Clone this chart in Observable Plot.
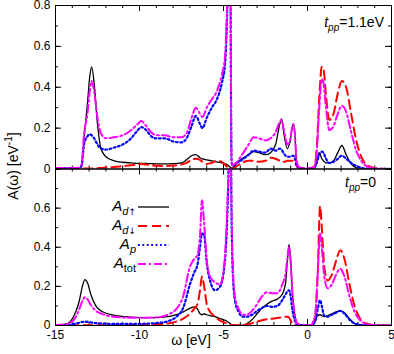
<!DOCTYPE html>
<html><head><meta charset="utf-8">
<script src="https://cdn.jsdelivr.net/npm/d3@7"></script>
<script src="https://cdn.jsdelivr.net/npm/@observablehq/plot@0.6"></script>
<style>
body{margin:0;background:#fff}
#chart{position:relative;width:394px;height:354px}
#chart svg{position:absolute;left:0;top:0}
</style></head><body><div id="chart"></div>
<script>
// ---- data: top panel (t_pp = 1.1 eV)
const topOmega = [-15,-13.6,-13.45,-13.3,-13.1,-12.95,-12.85,-12.7,-12.5,-12.3,-12,-11.5,-11,-10.5,-10.1,-9.9,-9.6,-9.3,-9,-8.5,-8,-7.5,-7.2,-6.9,-6.65,-6.4,-6.25,-6,-5.7,-5.4,-5.1,-4.9,-4.75,-4.62,-4.52,-4.45,-4.2,-3.9,-3.5,-3.2,-2.9,-2.5,-2.2,-1.9,-1.65,-1.55,-1.4,-1.2,-1.05,-0.85,-0.75,-0.65,-0.5,0,0.4,0.55,0.7,0.85,0.95,1.1,1.3,1.55,1.8,2.05,2.3,2.6,2.9,3.2,3.6,4.2,5];
const topDup = [0.002,0.005,0.02,0.15,0.32,0.46,0.50,0.42,0.22,0.10,0.06,0.04,0.033,0.03,0.028,0.028,0.027,0.026,0.025,0.025,0.026,0.03,0.045,0.065,0.07,0.055,0.05,0.045,0.04,0.035,0.03,0.025,0.02,0.01,0.005,0.005,0.03,0.05,0.07,0.085,0.08,0.07,0.08,0.12,0.22,0.245,0.17,0.10,0.13,0.22,0.17,0.03,0.005,0.001,0.005,0.04,0.08,0.05,0.04,0.03,0.03,0.04,0.08,0.115,0.07,0.025,0.006,0.002,0.001,0,0];
const topDdn = [0.001,0.001,0.001,0.002,0.002,0.002,0.003,0.003,0.004,0.005,0.007,0.01,0.014,0.018,0.022,0.024,0.022,0.018,0.016,0.015,0.017,0.022,0.03,0.045,0.05,0.045,0.035,0.025,0.03,0.04,0.035,0.02,0.01,0.005,0.002,0.002,0.015,0.03,0.04,0.04,0.035,0.04,0.055,0.05,0.04,0.035,0.035,0.04,0.04,0.04,0.03,0.015,0.004,0.001,0.01,0.10,0.35,0.50,0.49,0.36,0.24,0.27,0.37,0.43,0.40,0.27,0.14,0.06,0.015,0.002,0];
const topP = [0.003,0.004,0.015,0.12,0.16,0.17,0.165,0.15,0.12,0.10,0.095,0.105,0.12,0.15,0.19,0.205,0.19,0.16,0.15,0.15,0.135,0.13,0.15,0.21,0.26,0.22,0.20,0.25,0.30,0.34,0.42,0.52,0.85,1.25,0.04,0.015,0.03,0.045,0.07,0.09,0.085,0.08,0.10,0.09,0.10,0.095,0.075,0.06,0.06,0.065,0.05,0.02,0.005,0.001,0.005,0.03,0.07,0.085,0.08,0.05,0.03,0.035,0.05,0.065,0.05,0.03,0.015,0.006,0.002,0.001,0];
const topTot = [0.004,0.006,0.02,0.17,0.27,0.39,0.43,0.38,0.25,0.175,0.15,0.155,0.165,0.19,0.22,0.235,0.21,0.18,0.165,0.165,0.155,0.155,0.175,0.25,0.30,0.27,0.255,0.30,0.34,0.38,0.46,0.56,0.9,1.3,0.05,0.02,0.035,0.07,0.12,0.155,0.15,0.14,0.15,0.18,0.23,0.24,0.19,0.12,0.14,0.22,0.17,0.04,0.01,0.002,0.01,0.09,0.30,0.44,0.42,0.30,0.19,0.21,0.27,0.31,0.28,0.18,0.09,0.04,0.01,0.002,0];

// ---- data: bottom panel (t_pp = 0)
const botOmega = [-15,-14.3,-13.9,-13.6,-13.4,-13.25,-13.1,-12.9,-12.6,-12.2,-11.5,-10.5,-9.5,-8.7,-8.2,-7.8,-7.4,-7,-6.75,-6.55,-6.4,-6.28,-6.15,-6,-5.8,-5.5,-5.2,-4.95,-4.8,-4.68,-4.6,-4.52,-4.42,-4.3,-4.1,-3.85,-3.6,-3.3,-3,-2.7,-2.4,-2.1,-1.8,-1.5,-1.3,-1.2,-1.1,-1,-0.9,-0.75,-0.6,-0.3,0.2,0.45,0.6,0.75,0.85,1,1.2,1.45,1.7,1.95,2.2,2.5,2.8,3.1,3.5,4,5];
const botDup = [0.002,0.01,0.05,0.12,0.20,0.235,0.22,0.16,0.10,0.07,0.052,0.043,0.04,0.042,0.047,0.055,0.07,0.088,0.095,0.085,0.06,0.055,0.06,0.055,0.05,0.045,0.035,0.028,0.022,0.015,0.01,0.005,0.002,0.001,0,0.002,0.01,0.03,0.06,0.09,0.11,0.125,0.135,0.16,0.22,0.33,0.415,0.33,0.17,0.05,0.01,0.001,0.001,0.02,0.05,0.055,0.05,0.045,0.05,0.06,0.07,0.075,0.065,0.035,0.01,0.003,0.001,0,0];
const botDdn = [0.001,0.001,0.001,0.001,0.001,0.001,0.001,0.001,0.001,0.001,0.002,0.003,0.005,0.008,0.012,0.02,0.035,0.06,0.085,0.11,0.18,0.25,0.20,0.11,0.07,0.045,0.025,0.015,0.01,0.006,0.004,0.003,0.002,0.001,0.001,0.002,0.005,0.012,0.02,0.027,0.032,0.035,0.038,0.042,0.045,0.045,0.04,0.025,0.01,0.004,0.001,0.001,0.002,0.04,0.25,0.61,0.50,0.30,0.23,0.26,0.33,0.385,0.34,0.21,0.10,0.04,0.01,0.002,0];
const botP = [0.001,0.003,0.008,0.014,0.018,0.02,0.019,0.016,0.012,0.01,0.008,0.008,0.01,0.015,0.025,0.045,0.09,0.21,0.27,0.31,0.40,0.47,0.46,0.32,0.23,0.18,0.2,0.3,0.5,0.85,1.25,0.55,0.22,0.12,0.07,0.045,0.045,0.055,0.075,0.09,0.10,0.095,0.10,0.13,0.16,0.175,0.18,0.15,0.08,0.025,0.006,0.001,0.001,0.02,0.08,0.13,0.10,0.05,0.045,0.055,0.065,0.075,0.06,0.03,0.01,0.003,0.001,0,0];
const botTot = [0.002,0.008,0.03,0.08,0.125,0.145,0.135,0.105,0.075,0.058,0.045,0.04,0.04,0.045,0.06,0.085,0.15,0.30,0.34,0.36,0.46,0.64,0.52,0.34,0.25,0.22,0.21,0.32,0.55,0.9,1.3,0.6,0.25,0.14,0.085,0.055,0.055,0.075,0.11,0.15,0.17,0.165,0.165,0.21,0.27,0.34,0.40,0.32,0.17,0.05,0.01,0.001,0.003,0.05,0.25,0.47,0.40,0.25,0.19,0.21,0.26,0.29,0.25,0.15,0.07,0.03,0.008,0.001,0];

// ---- ticks & labels
const xTicks = [-15,-10,-5,0,5];
const xMinor = [-15,-14,-13,-12,-11,-10,-9,-8,-7,-6,-5,-4,-3,-2,-1,0,1,2,3,4,5];
const yTicksTop = [0,0.2,0.4,0.6,0.8];
const yTicksBot = [0,0.2,0.4,0.6];
const yMajor = [0,0.2,0.4,0.6,0.8];
const yMinor = [0,0.1,0.2,0.3,0.4,0.5,0.6,0.7,0.8];
const panelLabels = ["=1.1eV", "=0"];

// ---- styles
const seriesStyle = [
  {stroke: "#000000", strokeWidth: 1.3, dash: null},
  {stroke: "#ff0000", strokeWidth: 2, dash: "9,5"},
  {stroke: "#0000ff", strokeWidth: 2.2, dash: "1.8,2.6"},
  {stroke: "#ff00ff", strokeWidth: 2, dash: "8,3,2,3"}
];

const W = 394, H = 354, L = 55, R = 3;
const FONT = "'Liberation Sans', Arial, Helvetica, sans-serif";

function panel(omega, series, top, bottom, yTicks, showX) {
  const h = H - top - bottom, w = W - L - R;
  const major = 6, minor = 3;
  const marks = [
    Plot.ruleX(xMinor, {x: d => d, insetTop: h - minor}),
    Plot.ruleX(xMinor, {x: d => d, insetBottom: h - minor}),
    Plot.ruleX(xTicks, {x: d => d, insetTop: h - major}),
    Plot.ruleX(xTicks, {x: d => d, insetBottom: h - major}),
    Plot.ruleY(yMinor, {y: d => d, insetRight: w - minor}),
    Plot.ruleY(yMinor, {y: d => d, insetLeft: w - minor}),
    Plot.ruleY(yMajor, {y: d => d, insetRight: w - major}),
    Plot.ruleY(yMajor, {y: d => d, insetLeft: w - major}),
  ];
  seriesStyle.forEach((s, k) => {
    const vals = series[k];
    marks.push(Plot.line(omega, {
      x: d => d, y: (d, i) => vals[i],
      stroke: s.stroke, strokeWidth: s.strokeWidth,
      strokeDasharray: s.dash || undefined,
      curve: "monotone-x", clip: true
    }));
  });
  marks.push(Plot.frame({stroke: "#000", strokeWidth: 1}));
  return Plot.plot({
    width: W, height: H,
    marginLeft: L, marginRight: R, marginTop: top, marginBottom: bottom,
    x: {domain: [-15, 5], axis: showX ? "bottom" : null, ticks: xTicks,
        tickSize: 0, tickPadding: 5, tickFormat: d => `${d}`, label: null},
    y: {domain: [0, 0.8], ticks: yTicks, tickSize: 0, tickPadding: 5,
        tickFormat: d => `${d}`, label: null},
    style: {fontFamily: FONT, fontSize: "12px", background: "transparent", color: "#000"},
    marks
  });
}

const chart = document.getElementById("chart");
const topPlot = panel(topOmega, [topDup, topDdn, topP, topTot], 5, H - 168.5, yTicksTop, false);
const botPlot = panel(botOmega, [botDup, botDdn, botP, botTot], 168.5, 29, yTicksBot, true);
chart.appendChild(topPlot);
chart.appendChild(botPlot);

// ---- annotations (axis titles, panel labels, legend)
const svg = d3.select(botPlot);
const g = svg.append("g").attr("font-family", FONT).attr("fill", "#000");

const yl = g.append("text").attr("transform", "translate(17.5,166) rotate(-90)")
  .attr("text-anchor", "middle").attr("font-size", 14);
yl.append("tspan").text("A(ω) [eV");
yl.append("tspan").attr("font-size", 10).attr("dy", -6).text("-1");
yl.append("tspan").attr("dy", 6).text("]");

g.append("text").attr("x", 191).attr("y", 345).attr("text-anchor", "middle")
  .attr("font-size", 14).text("ω [eV]");

function tpp(x, y, rest) {
  const t = g.append("text").attr("x", x).attr("y", y).attr("text-anchor", "end").attr("font-size", 14);
  t.append("tspan").attr("font-style", "italic").text("t");
  t.append("tspan").attr("font-style", "italic").attr("font-size", 10).attr("dy", 4).text("pp");
  t.append("tspan").attr("dy", -4).text(rest);
}
tpp(384, 27, panelLabels[0]);
tpp(376, 187, panelLabels[1]);

const legendSubs = [
  {sub: "d", italic: true, arrow: "↑"},
  {sub: "d", italic: true, arrow: "↓"},
  {sub: "p", italic: true, arrow: ""},
  {sub: "tot", italic: false, arrow: ""}
];
legendSubs.forEach((e, k) => {
  const ly = 207 + k * 19;
  const s = seriesStyle[k];
  const t = g.append("text").attr("x", 136).attr("y", ly + 4).attr("text-anchor", "end").attr("font-size", 15);
  t.append("tspan").attr("font-style", "italic").text("A");
  t.append("tspan").attr("font-style", e.italic ? "italic" : "normal").attr("font-size", 11).attr("dy", 4).text(e.sub);
  if (e.arrow) t.append("tspan").attr("font-family", "'DejaVu Sans', sans-serif").attr("font-size", 9).text(e.arrow);
  const ln = g.append("line").attr("x1", 138).attr("x2", 169).attr("y1", ly).attr("y2", ly)
    .attr("stroke", s.stroke).attr("stroke-width", s.strokeWidth);
  if (s.dash) ln.attr("stroke-dasharray", s.dash);
});
</script></body></html>
